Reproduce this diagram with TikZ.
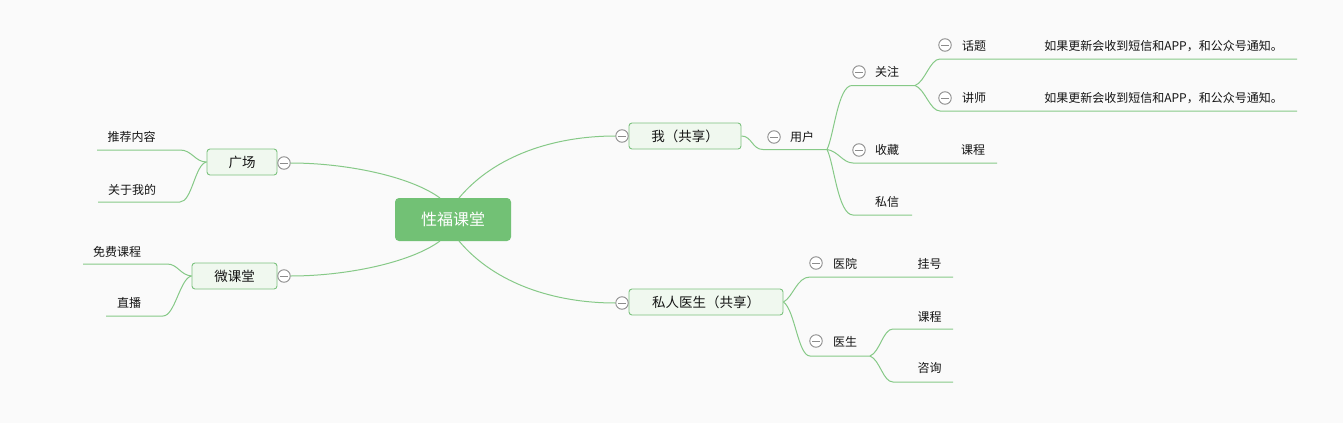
\documentclass[tikz,border=0pt]{standalone}
\usepackage{fontspec}
\newfontfamily\cjk{Noto Sans CJK SC}
\definecolor{bgc}{HTML}{FAFAFA}
\definecolor{lineg}{HTML}{86C987}
\definecolor{boxg}{HTML}{7CC27E}
\definecolor{boxfill}{HTML}{F0F8EF}
\definecolor{rootg}{HTML}{72C175}
\definecolor{foldc}{HTML}{8C8C8C}
\definecolor{txt}{HTML}{141414}
\tikzset{
  link/.style={draw=lineg, line width=1pt},
  rootbox/.style={fill=rootg, rounded corners=4pt, minimum width=116pt, minimum height=43pt, inner sep=0pt, text=white, font=\cjk\fontsize{16}{18}\selectfont},
  topbox/.style={draw=boxg, fill=boxfill, line width=0.9pt, rounded corners=3pt, minimum height=26pt, inner sep=0pt, text=txt, font=\cjk\fontsize{13.5}{15}\selectfont},
  lbl/.style={inner sep=0pt, text=txt, font=\cjk\fontsize{12}{14}\selectfont},
  fold/.style={circle, draw=foldc, fill=white, line width=0.9pt, minimum size=12.5pt, inner sep=0pt,
    path picture={\draw[foldc, line width=0.9pt] ([xshift=-4pt]path picture bounding box.center) -- ([xshift=4pt]path picture bounding box.center);}}
}
\begin{document}
\begin{tikzpicture}[x=1pt,y=-1pt]
\useasboundingbox (0,0) rectangle (1343,423);
\fill[bgc] (0,0) rectangle (1343,423);

% root
\node[rootbox] (root) at (453,219.5) {性福课堂};
\coordinate (rUR) at (459,198);
\coordinate (rLR) at (459,241);
\coordinate (rUL) at (440,198);
\coordinate (rLL) at (440,241);

% main topics
\node[topbox, minimum width=112pt] (me) at (685,136) {我（共享）};
\node[topbox, minimum width=154pt] (doc) at (706,302) {私人医生（共享）};
\node[topbox, minimum width=70pt] (sq) at (242,162) {广场};
\node[topbox, minimum width=85pt] (wk) at (234.5,276) {微课堂};
\node[fold] (fMe) at (622,136) {};
\node[fold] (fDoc) at (622,303) {};
\node[fold] (fSq) at (284,163) {};
\node[fold] (fWk) at (284,276) {};

\draw[link] (rUR) .. controls (495,155) and (555,136) .. (fMe.west);
\draw[link] (rLR) .. controls (495,284) and (555,303) .. (fDoc.west);
\draw[link] (rUL) .. controls (410,176) and (345,163) .. (fSq.east);
\draw[link] (rLL) .. controls (410,263) and (345,276) .. (fWk.east);

% ---- 我（共享） subtree
\node[fold] (fYh) at (774,137) {};
\node[lbl] (yh) at (802,137) {用户};
\coordinate (yhL) at (763,149.5);
\coordinate (yhR) at (827,149.5);
\draw[link] (me.east) .. controls (752,136) and (752,149.5) .. (yhL) -- (yhR);

\node[fold] (fGz) at (859,72) {};
\node[lbl] (gz) at (887,72) {关注};
\coordinate (gzL) at (852,85.5);
\coordinate (gzR) at (915,85.5);
\draw[link] (yhR) .. controls (834,135) and (838,85.5) .. (gzL) -- (gzR);

\node[fold] (fSc) at (859,150) {};
\node[lbl] (sc) at (887,150) {收藏};
\node[lbl] (kc1) at (973,150) {课程};
\coordinate (scL) at (853,163);
\coordinate (scR) at (997,163);
\draw[link] (yhR) .. controls (838,151) and (843,163) .. (scL) -- (scR);

\node[lbl] (sx) at (887,202) {私信};
\coordinate (sxL) at (853,215);
\coordinate (sxR) at (912,215);
\draw[link] (yhR) .. controls (834,163) and (838,215) .. (sxL) -- (sxR);

\node[fold] (fHt) at (945,45) {};
\node[lbl] (ht) at (974,46) {话题};
\node[lbl] (ht2) at (1163.5,46) {如果更新会收到短信和APP，和公众号通知。};
\coordinate (htL) at (940,59);
\coordinate (htR) at (1297,59);
\draw[link] (gzR) .. controls (925,82) and (930,59) .. (htL) -- (htR);

\node[fold] (fJs) at (945,98) {};
\node[lbl] (js) at (974,98) {讲师};
\node[lbl] (js2) at (1163.5,98) {如果更新会收到短信和APP，和公众号通知。};
\coordinate (jsL) at (940,111);
\coordinate (jsR) at (1297,111);
\draw[link] (gzR) .. controls (925,89) and (930,111) .. (jsL) -- (jsR);

% ---- 私人医生（共享） subtree
\node[fold] (fYy) at (816,263) {};
\node[lbl] (yy) at (845,264) {医院};
\node[lbl] (gh) at (929.5,264) {挂号};
\coordinate (yyL) at (810,277);
\coordinate (yyR) at (953,277);
\draw[link] (doc.east) .. controls (793,297) and (797,277) .. (yyL) -- (yyR);

\node[fold] (fYs) at (816,341) {};
\node[lbl] (ys) at (845,342) {医生};
\coordinate (ysL) at (810,356);
\coordinate (ysR) at (870,356);
\draw[link] (doc.east) .. controls (795,310) and (798,356) .. (ysL) -- (ysR);

\node[lbl] (kc2) at (929.5,317) {课程};
\coordinate (kc2L) at (893,329);
\coordinate (kc2R) at (953,329);
\draw[link] (ysR) .. controls (880,352) and (883,329) .. (kc2L) -- (kc2R);

\node[lbl] (zx) at (929.5,368) {咨询};
\coordinate (zxL) at (893,382);
\coordinate (zxR) at (953,382);
\draw[link] (ysR) .. controls (880,360) and (883,382) .. (zxL) -- (zxR);

% ---- 广场 subtree
\node[lbl] (tj) at (131.5,137) {推荐内容};
\coordinate (tjR) at (180,150);
\coordinate (tjL) at (97,150);
\draw[link] (sq.west) .. controls (195,162) and (192,150) .. (tjR) -- (tjL);

\node[lbl] (gy) at (132,190) {关于我的};
\coordinate (gyR) at (180,202);
\coordinate (gyL) at (98,202);
\draw[link] (sq.west) .. controls (195,164) and (192,202) .. (gyR) -- (gyL);

% ---- 微课堂 subtree
\node[lbl] (mf) at (117,252) {免费课程};
\coordinate (mfR) at (167,264);
\coordinate (mfL) at (83,264);
\draw[link] (wk.west) .. controls (180,275) and (178,264) .. (mfR) -- (mfL);

\node[lbl] (zb) at (129,303) {直播};
\coordinate (zbR) at (163,316);
\coordinate (zbL) at (106,316);
\draw[link] (wk.west) .. controls (180,278) and (175,316) .. (zbR) -- (zbL);
\end{tikzpicture}
\end{document}
